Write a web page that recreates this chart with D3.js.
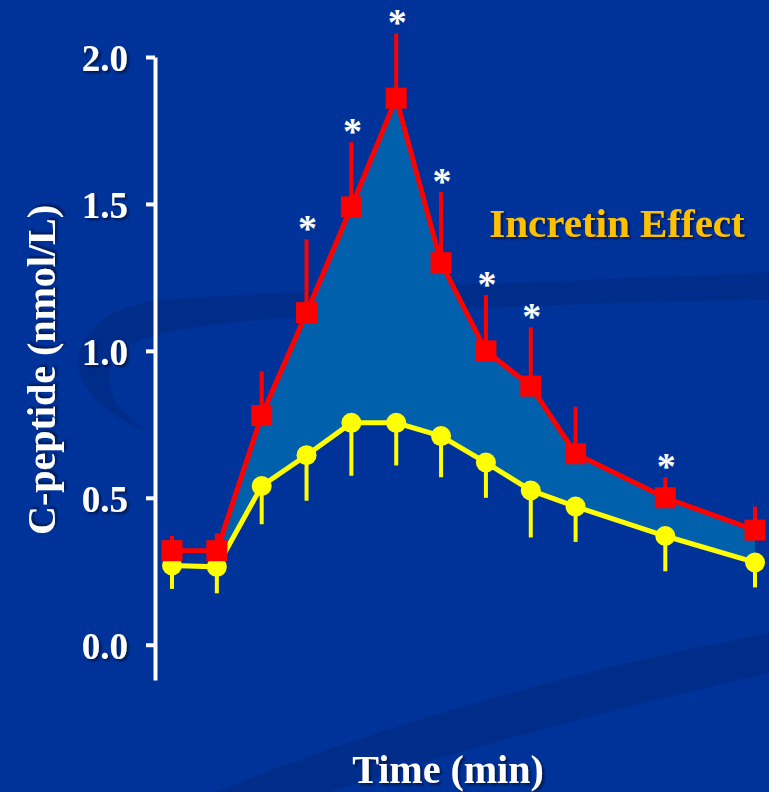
<!DOCTYPE html>
<html>
<head>
<meta charset="utf-8">
<script src="https://cdn.jsdelivr.net/npm/d3@7"></script>
<style>
  body { margin: 0; background: #003399; }
  svg { display: block; }
</style>
</head>
<body>
<svg id="chart" width="769" height="792"></svg>
<script>
// sampling times (min)
const times = [-10, 0, 10, 20, 30, 40, 50, 60, 70, 80, 100, 120];
// oral glucose (red squares) mean and SEM
const oralMean = [0.32, 0.32, 0.78, 1.13, 1.49, 1.86, 1.30, 1.00, 0.88, 0.65, 0.50, 0.39];
const oralSem  = [0.05, 0.06, 0.15, 0.25, 0.22, 0.22, 0.24, 0.19, 0.20, 0.16, 0.07, 0.08];
// isoglycaemic i.v. glucose (yellow circles) mean and SEM
const ivMean = [0.27, 0.265, 0.54, 0.645, 0.755, 0.755, 0.71, 0.62, 0.525, 0.47, 0.37, 0.28];
const ivSem  = [0.08, 0.09, 0.13, 0.155, 0.18, 0.145, 0.14, 0.12, 0.16, 0.12, 0.12, 0.085];
// significance markers
const significant = [false, false, false, true, true, true, true, true, true, false, true, false];
const yTicks = [0, 0.5, 1.0, 1.5, 2.0];

let width = 769;
let height = 792;
let bgColor = "#003399";
let swooshColor = "#002d8a";
let fillColor = "#0060ab";
let redColor = "#ff0000";
let yellowColor = "#ffff00";
let serif = "'Liberation Serif', 'Times New Roman', serif";

let svg = d3.select("#chart");

// text shadow
let defs = svg.append("defs");
defs.append("filter")
  .attr("id", "shadow")
  .attr("x", "-10%").attr("y", "-10%")
  .attr("width", "130%").attr("height", "130%")
  .append("feDropShadow")
  .attr("dx", 2).attr("dy", 2)
  .attr("stdDeviation", 1)
  .attr("flood-color", "#000a3a")
  .attr("flood-opacity", 0.8);

// background
svg.append("rect")
  .attr("width", width)
  .attr("height", height)
  .style("fill", bgColor);

// decorative swooshes of the slide background
svg.append("path")
  .attr("d", "M769,272 C620,280 330,288 160,300 C110,306 80,330 78,362 " +
             "C78,390 110,418 150,433 C118,412 104,390 110,368 " +
             "C118,340 160,326 300,317 C450,308 620,302 769,300 Z")
  .style("fill", swooshColor);

svg.append("path")
  .attr("d", "M215,792 Q470,690 769,633 L769,673 Q520,730 330,792 Z")
  .style("fill", swooshColor);

// scales
let x = d3.scaleLinear()
  .domain([-10, 120])
  .range([172, 755]);

let y = d3.scaleLinear()
  .domain([-0.12, 2.0])
  .range([680, 57]);

let oral = times.map((t, i) => ({ t: t, m: oralMean[i], s: oralSem[i], sig: significant[i] }));
let iv = times.map((t, i) => ({ t: t, m: ivMean[i], s: ivSem[i] }));

// incretin effect area (from time 0 on)
let areaData = times.map((t, i) => ({ t: t, lo: ivMean[i], hi: oralMean[i] })).filter(d => d.t >= 0);
svg.append("path")
  .datum(areaData)
  .attr("d", d3.area()
    .x(d => x(d.t))
    .y0(d => y(d.lo))
    .y1(d => y(d.hi)))
  .style("fill", fillColor);

// y axis
let yAxis = d3.axisLeft(y)
  .tickValues(yTicks)
  .tickFormat(d3.format(".1f"))
  .tickSize(9)
  .tickSizeOuter(0)
  .tickPadding(18);

let axisG = svg.append("g")
  .attr("transform", "translate(155,0)")
  .call(yAxis);

axisG.select(".domain")
  .style("stroke", "#ffffff")
  .style("stroke-width", 4);
axisG.selectAll(".tick line")
  .style("stroke", "#ffffff")
  .style("stroke-width", 4);
axisG.selectAll(".tick text")
  .attr("dy", "0.36em")
  .style("fill", "#ffffff")
  .style("font-family", serif)
  .style("font-weight", "bold")
  .style("font-size", "37px")
  .attr("filter", "url(#shadow)");

// yellow error bars (downwards)
svg.selectAll(".ivErr")
  .data(iv)
  .enter()
  .append("line")
  .attr("x1", d => x(d.t))
  .attr("x2", d => x(d.t))
  .attr("y1", d => y(d.m))
  .attr("y2", d => y(d.m - d.s))
  .style("stroke", yellowColor)
  .style("stroke-width", 4);

// yellow line
svg.append("path")
  .datum(iv)
  .attr("d", d3.line().x(d => x(d.t)).y(d => y(d.m)))
  .style("fill", "none")
  .style("stroke", yellowColor)
  .style("stroke-width", 5);

svg.selectAll(".ivDot")
  .data(iv)
  .enter()
  .append("circle")
  .attr("cx", d => x(d.t))
  .attr("cy", d => y(d.m))
  .attr("r", 10)
  .style("fill", yellowColor);

// red error bars (upwards)
svg.selectAll(".oralErr")
  .data(oral)
  .enter()
  .append("line")
  .attr("x1", d => x(d.t))
  .attr("x2", d => x(d.t))
  .attr("y1", d => y(d.m))
  .attr("y2", d => y(d.m + d.s))
  .style("stroke", redColor)
  .style("stroke-width", 4);

// red line
svg.append("path")
  .datum(oral)
  .attr("d", d3.line().x(d => x(d.t)).y(d => y(d.m)))
  .style("fill", "none")
  .style("stroke", redColor)
  .style("stroke-width", 5);

let sq = 21;
svg.selectAll(".oralDot")
  .data(oral)
  .enter()
  .append("rect")
  .attr("x", d => x(d.t) - sq / 2)
  .attr("y", d => y(d.m) - sq / 2)
  .attr("width", sq)
  .attr("height", sq)
  .style("fill", redColor);

// asterisks
svg.selectAll(".star")
  .data(oral.filter(d => d.sig))
  .enter()
  .append("text")
  .attr("x", d => x(d.t) + 1)
  .attr("y", d => y(d.m + d.s) + 2)
  .attr("text-anchor", "middle")
  .text("*")
  .style("fill", "#ffffff")
  .style("font-family", serif)
  .style("font-weight", "bold")
  .style("font-size", "38px");

// titles
svg.append("text")
  .attr("transform", "translate(55,370) rotate(-90)")
  .attr("text-anchor", "middle")
  .text("C-peptide (nmol/L)")
  .style("fill", "#ffffff")
  .style("font-family", serif)
  .style("font-weight", "bold")
  .style("font-size", "40px")
  .attr("filter", "url(#shadow)");

svg.append("text")
  .attr("x", 448)
  .attr("y", 783)
  .attr("text-anchor", "middle")
  .text("Time (min)")
  .style("fill", "#ffffff")
  .style("font-family", serif)
  .style("font-weight", "bold")
  .style("font-size", "40px")
  .attr("filter", "url(#shadow)");

svg.append("text")
  .attr("x", 617)
  .attr("y", 237)
  .attr("text-anchor", "middle")
  .text("Incretin Effect")
  .style("fill", "#ffc000")
  .style("font-family", serif)
  .style("font-weight", "bold")
  .style("font-size", "41px")
  .attr("filter", "url(#shadow)");
</script>
</body>
</html>
